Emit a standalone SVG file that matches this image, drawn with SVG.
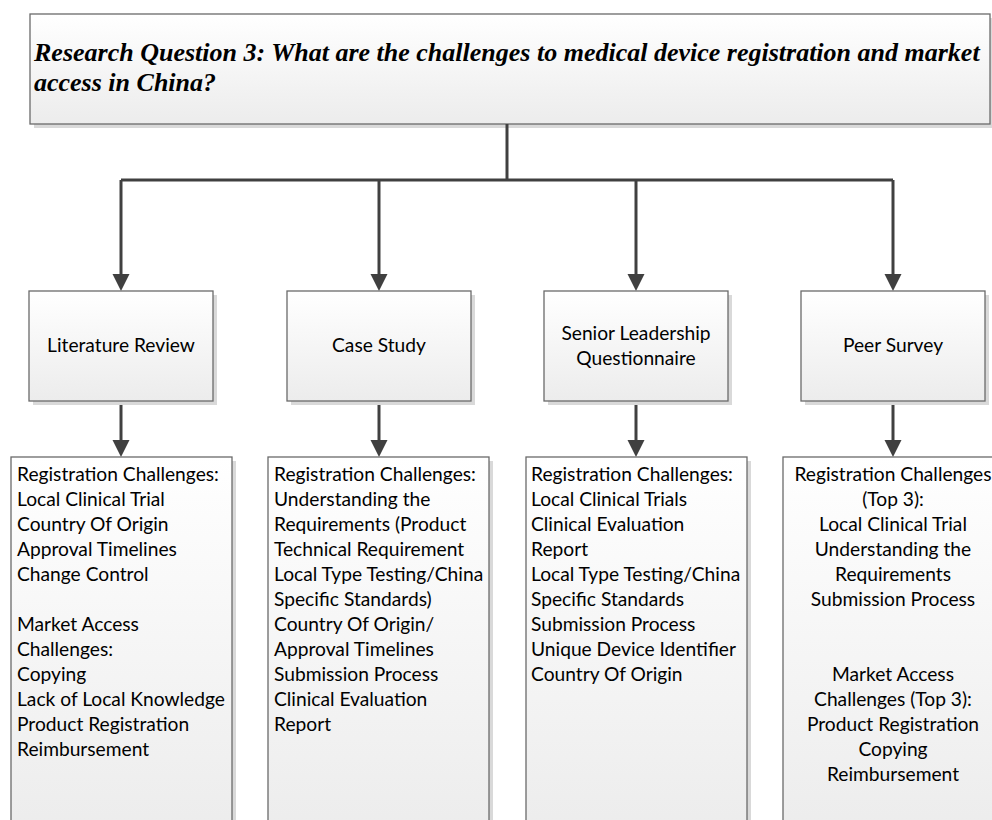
<svg xmlns="http://www.w3.org/2000/svg" width="992" height="820" viewBox="0 0 992 820">
<defs>
<linearGradient id="g" x1="0" y1="0" x2="0" y2="1">
<stop offset="0" stop-color="#ffffff"/>
<stop offset="1" stop-color="#ececec"/>
</linearGradient>
<marker id="ah" markerUnits="userSpaceOnUse" markerWidth="18" markerHeight="18" refX="6" refY="8.5" orient="auto">
<path d="M0,0 L17,8.5 L0,17 z" fill="#404040"/>
</marker>
</defs>
<style>
.box{fill:url(#g);stroke:#6a6a6a;stroke-width:1.3}
.sh{fill:#d9d9d9}
.c{fill:none;stroke:#404040;stroke-width:3}
.t{font-family:Lato,"Liberation Sans",sans-serif;font-size:19.2px;fill:#000}
.m{text-anchor:middle}
.title{font-family:"Liberation Serif",serif;font-weight:bold;font-style:italic;font-size:26px;fill:#000}
</style>
<rect width="992" height="820" fill="#ffffff"/>

<g id="question">
<rect class="sh" x="34" y="18" width="960" height="110"/>
<rect class="box" x="30" y="14" width="960" height="110"/>
<text class="title" x="34" y="61">Research Question 3: What are the challenges to medical device registration and market</text>
<text class="title" x="34" y="91">access in China?</text>
</g>

<g id="connectors">
<path class="c" d="M507,124 V180"/>
<path class="c" d="M121,180 H893"/>
<path class="c" d="M121,180 V280" marker-end="url(#ah)"/>
<path class="c" d="M379,180 V280" marker-end="url(#ah)"/>
<path class="c" d="M636,180 V280" marker-end="url(#ah)"/>
<path class="c" d="M893,180 V280" marker-end="url(#ah)"/>
<path class="c" d="M121,401 V446" marker-end="url(#ah)"/>
<path class="c" d="M379,401 V446" marker-end="url(#ah)"/>
<path class="c" d="M636,401 V446" marker-end="url(#ah)"/>
<path class="c" d="M893,401 V446" marker-end="url(#ah)"/>
</g>

<g id="literature-review">
<rect class="sh" x="33" y="295" width="184" height="110"/>
<rect class="box" x="29" y="291" width="184" height="110"/>
<text class="t m" x="121" y="352">Literature Review</text>
</g>
<g id="case-study">
<rect class="sh" x="291" y="295" width="184" height="110"/>
<rect class="box" x="287" y="291" width="184" height="110"/>
<text class="t m" x="379" y="352">Case Study</text>
</g>
<g id="senior-leadership">
<rect class="sh" x="548" y="295" width="184" height="110"/>
<rect class="box" x="544" y="291" width="184" height="110"/>
<text class="t m" x="636" y="340">Senior Leadership</text>
<text class="t m" x="636" y="365">Questionnaire</text>
</g>
<g id="peer-survey">
<rect class="sh" x="805" y="295" width="184" height="110"/>
<rect class="box" x="801" y="291" width="184" height="110"/>
<text class="t m" x="893" y="352">Peer Survey</text>
</g>

<g id="literature-findings">
<rect class="sh" x="15" y="461" width="221" height="380"/>
<rect class="box" x="11" y="457" width="221" height="380"/>
<text class="t" x="17" y="481">Registration Challenges:</text>
<text class="t" x="17" y="506">Local Clinical Trial</text>
<text class="t" x="17" y="531">Country Of Origin</text>
<text class="t" x="17" y="556">Approval Timelines</text>
<text class="t" x="17" y="581">Change Control</text>
<text class="t" x="17" y="631">Market Access</text>
<text class="t" x="17" y="656">Challenges:</text>
<text class="t" x="17" y="681">Copying</text>
<text class="t" x="17" y="706">Lack of Local Knowledge</text>
<text class="t" x="17" y="731">Product Registration</text>
<text class="t" x="17" y="756">Reimbursement</text>
</g>

<g id="case-study-findings">
<rect class="sh" x="272" y="461" width="221" height="380"/>
<rect class="box" x="268" y="457" width="221" height="380"/>
<text class="t" x="274" y="481">Registration Challenges:</text>
<text class="t" x="274" y="506">Understanding the</text>
<text class="t" x="274" y="531">Requirements (Product</text>
<text class="t" x="274" y="556">Technical Requirement</text>
<text class="t" x="274" y="581">Local Type Testing/China</text>
<text class="t" x="274" y="606">Specific Standards)</text>
<text class="t" x="274" y="631">Country Of Origin/</text>
<text class="t" x="274" y="656">Approval Timelines</text>
<text class="t" x="274" y="681">Submission Process</text>
<text class="t" x="274" y="706">Clinical Evaluation</text>
<text class="t" x="274" y="731">Report</text>
</g>

<g id="senior-leadership-findings">
<rect class="sh" x="530" y="461" width="221" height="380"/>
<rect class="box" x="526" y="457" width="221" height="380"/>
<text class="t" x="531" y="481">Registration Challenges:</text>
<text class="t" x="531" y="506">Local Clinical Trials</text>
<text class="t" x="531" y="531">Clinical Evaluation</text>
<text class="t" x="531" y="556">Report</text>
<text class="t" x="531" y="581">Local Type Testing/China</text>
<text class="t" x="531" y="606">Specific Standards</text>
<text class="t" x="531" y="631">Submission Process</text>
<text class="t" x="531" y="656">Unique Device Identifier</text>
<text class="t" x="531" y="681">Country Of Origin</text>
</g>

<g id="peer-survey-findings">
<rect class="sh" x="787" y="461" width="221" height="380"/>
<rect class="box" x="783" y="457" width="221" height="380"/>
<text class="t m" x="893" y="481">Registration Challenges</text>
<text class="t m" x="893" y="506">(Top 3):</text>
<text class="t m" x="893" y="531">Local Clinical Trial</text>
<text class="t m" x="893" y="556">Understanding the</text>
<text class="t m" x="893" y="581">Requirements</text>
<text class="t m" x="893" y="606">Submission Process</text>
<text class="t m" x="893" y="681">Market Access</text>
<text class="t m" x="893" y="706">Challenges (Top 3):</text>
<text class="t m" x="893" y="731">Product Registration</text>
<text class="t m" x="893" y="756">Copying</text>
<text class="t m" x="893" y="781">Reimbursement</text>
</g>
</svg>
